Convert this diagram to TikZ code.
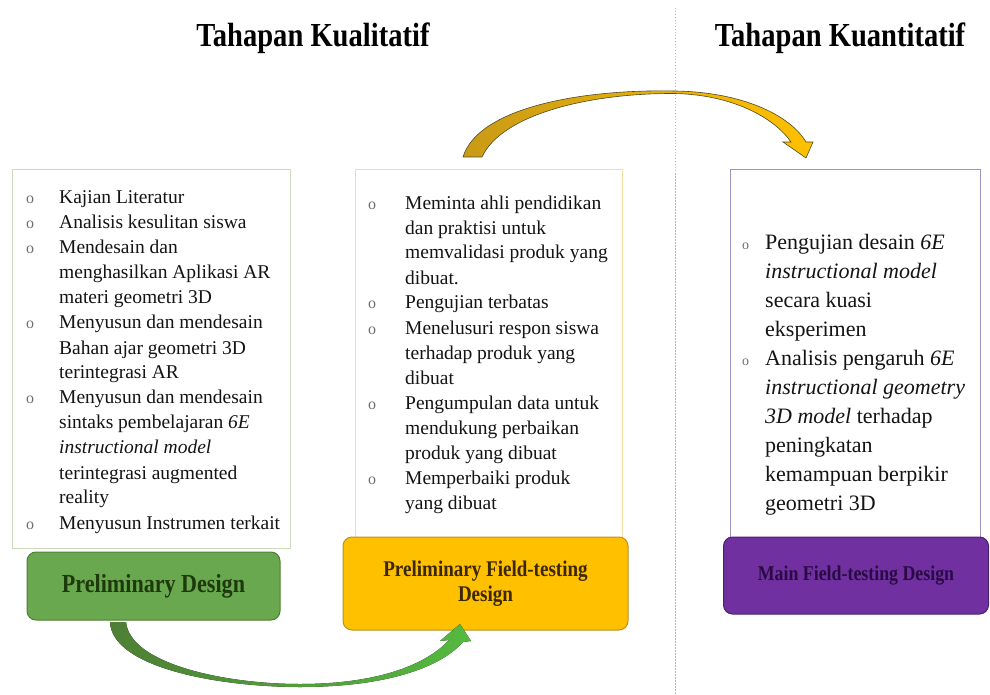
\documentclass[tikz,border=0pt]{standalone}
\usepackage{fontspec}
\setmainfont{Liberation Serif}
\newfontfamily\headfont{Liberation Serif}[FakeStretch=0.85]
\definecolor{leaf}{HTML}{6AA84F}
\definecolor{leafdark}{HTML}{4E7F35}
\definecolor{leafink}{HTML}{1C3A0C}
\definecolor{leafline}{HTML}{C9DBBA}
\definecolor{amber}{HTML}{FFC000}
\definecolor{amberdark}{HTML}{B8902A}
\definecolor{amberink}{HTML}{3B2700}
\definecolor{amberline}{HTML}{F6DCA2}
\definecolor{plum}{HTML}{7030A0}
\definecolor{plumdark}{HTML}{4A1F6E}
\definecolor{plumink}{HTML}{2A0A44}
\definecolor{plumline}{HTML}{A393C0}
\definecolor{bulgray}{HTML}{6E6E6E}
\definecolor{gold}{HTML}{C99A17}
\definecolor{olive}{HTML}{4F4B26}
\tikzset{listbox/.style={draw,line width=1pt,fill=white,inner sep=0pt},stagebox/.style={rounded corners=9pt,line width=1pt,align=center,inner sep=0pt},stagelabel/.style={font=\headfont\bfseries\fontsize{#1}{25}\selectfont},title/.style={font=\headfont\bfseries\fontsize{33.6}{36}\selectfont},listtext/.style={anchor=base west,inner sep=0pt,text=black!92}}
\newcommand{\bul}[1][16]{\textcolor{bulgray}{\fontsize{#1}{#1}\selectfont o}}

\begin{document}
\begin{tikzpicture}[x=1pt,y=-1pt]
\useasboundingbox (0,0) rectangle (990,695);
\draw[gray!55,line width=1pt,dash pattern=on 1.5pt off 1.5pt] (675,8) -- (675,695);
\node[title] (kual) at (313,38) {Tahapan Kualitatif};
\node[title] (kuan) at (840,38) {Tahapan Kuantitatif};
% list boxes
\node[listbox,draw=leafline,minimum width=278pt,minimum height=378pt] (kajian) at (151,359) {};
\node[listbox,draw=amberline,minimum width=267pt,minimum height=370pt] (uji) at (488.5,355) {};
\node[listbox,draw=plumline,minimum width=250pt,minimum height=368pt] (eks) at (855,354) {};
\node[listtext,font=\fontsize{19.5}{25}\selectfont] (kajiantxt) at (26,204) {\begin{tabular}[t]{@{}p{33pt}@{}l@{}}
\bul & Kajian Literatur\\
\bul & Analisis kesulitan siswa\\
\bul & Mendesain dan\\
 & menghasilkan Aplikasi AR\\
 & materi geometri 3D\\
\bul & Menyusun dan mendesain\\
 & Bahan ajar geometri 3D\\
 & terintegrasi AR\\
\bul & Menyusun dan mendesain\\
 & sintaks pembelajaran \textit{6E}\\
 & \textit{instructional model}\\
 & terintegrasi augmented\\
 & reality\\
\bul & Menyusun Instrumen terkait
\end{tabular}};
\node[listtext,font=\fontsize{19.5}{25}\selectfont] (ujitxt) at (368,209) {\begin{tabular}[t]{@{}p{37pt}@{}l@{}}
\bul & Meminta ahli pendidikan\\
 & dan praktisi untuk\\
 & memvalidasi produk yang\\
 & dibuat.\\
\bul & Pengujian terbatas\\
\bul & Menelusuri respon siswa\\
 & terhadap produk yang\\
 & dibuat\\
\bul & Pengumpulan data untuk\\
 & mendukung perbaikan\\
 & produk yang dibuat\\
\bul & Memperbaiki produk\\
 & yang dibuat
\end{tabular}};
\node[listtext,font=\fontsize{22}{29}\selectfont] (ekstxt) at (742,249) {\begin{tabular}[t]{@{}p{23pt}@{}l@{}}
\bul[14] & Pengujian desain \textit{6E}\\
 & \textit{instructional model}\\
 & secara kuasi\\
 & eksperimen\\
\bul[14] & Analisis pengaruh \textit{6E}\\
 & \textit{instructional geometry}\\
 & \textit{3D model} terhadap\\
 & peningkatan\\
 & kemampuan berpikir\\
 & geometri 3D
\end{tabular}};
% stage boxes
\node[stagebox,draw=leafdark,fill=leaf,text=leafink,stagelabel=26,minimum width=253pt,minimum height=68pt] (pd) at (153.5,586) {Preliminary Design};
\node[stagebox,draw=amberdark,fill=amber,text=amberink,stagelabel=22.4,minimum width=285pt,minimum height=93pt] (pfd) at (485.5,583.5) {Preliminary Field-testing\\Design};
\node[stagebox,draw=plumdark,fill=plum,text=plumink,stagelabel=21,minimum width=265pt,minimum height=77pt] (mfd) at (856,575.5) {Main Field-testing Design};
% curved block arrows
\draw[olive,line width=.6pt,left color=gold,right color=amber]
 (463,157) .. controls (478,108) and (580,89) .. (675,91)
 .. controls (742,92) and (790,115) .. (806,142) -- (813,142) -- (806,158) -- (783,142) -- (791,142)
 .. controls (775,119) and (735,95) .. (675,93.5)
 .. controls (590,93) and (502,114) .. (482,157) -- cycle;
\fill[left color=leafdark,right color=leaf!80!green]
 (110,622) .. controls (112,668) and (220,687) .. (300,687)
 .. controls (385,687) and (440,668) .. (463,642) -- (471,641) -- (460,624) -- (440,641) -- (449,640)
 .. controls (425,666) and (375,684) .. (300,684)
 .. controls (225,684) and (130,664) .. (126,622) -- cycle;
\end{tikzpicture}
\end{document}
